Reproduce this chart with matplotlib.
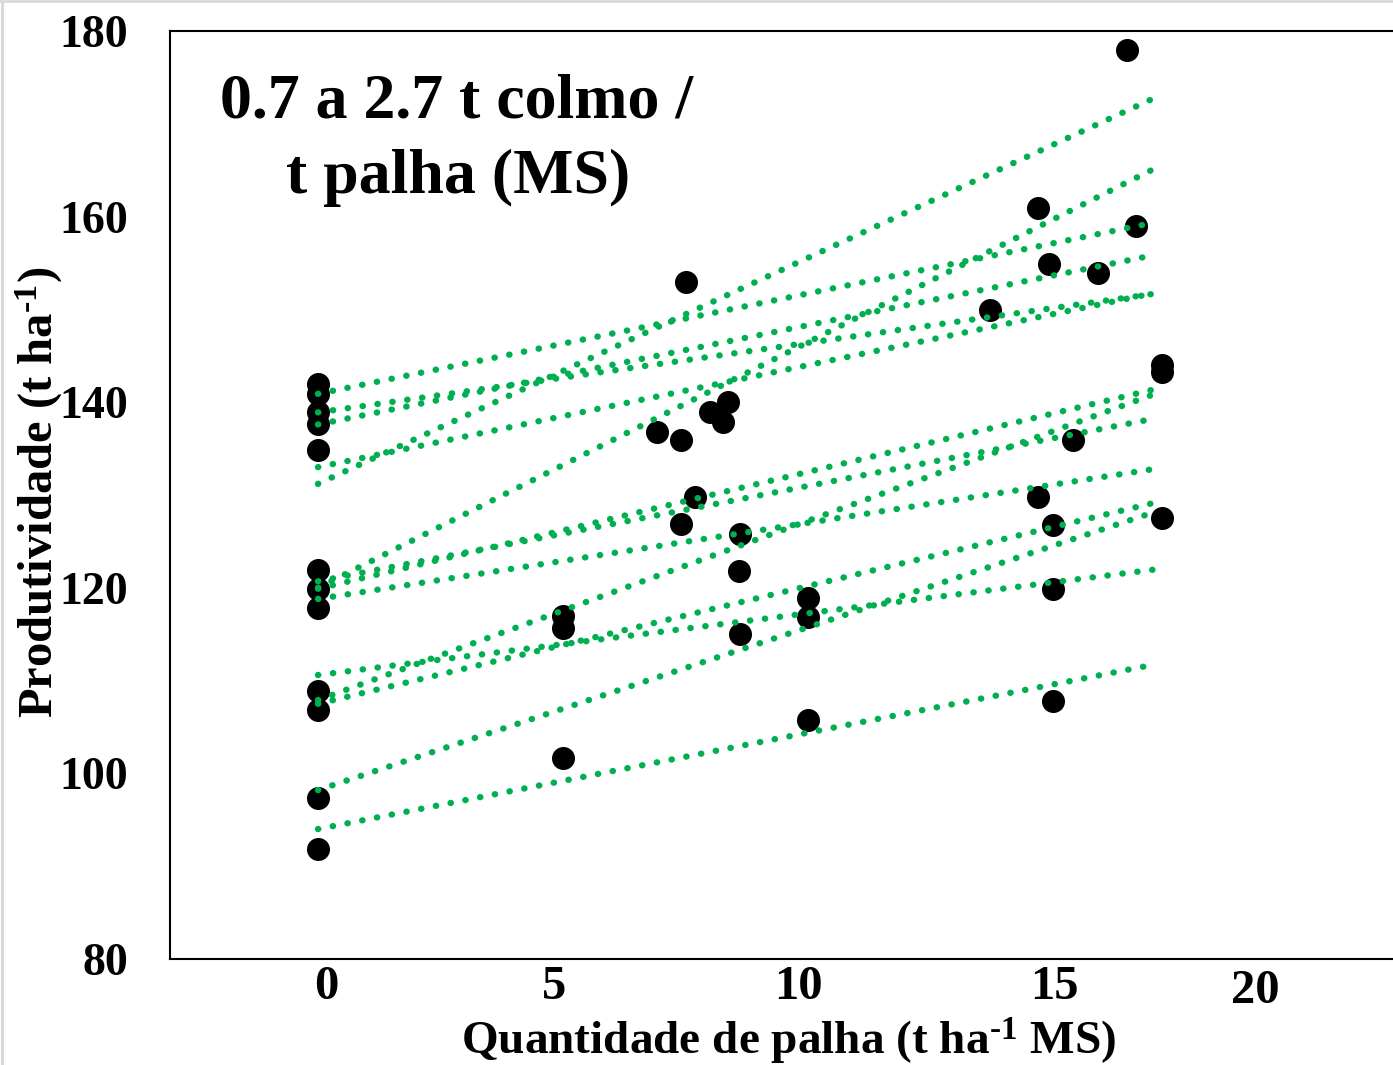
import matplotlib
matplotlib.use('Agg')
import matplotlib.pyplot as plt
from matplotlib.lines import Line2D
import matplotlib.transforms as mtransforms

plt.rcParams['font.family'] = ['Liberation Serif', 'DejaVu Serif']
plt.rcParams['font.weight'] = 'bold'
plt.rcParams['mathtext.fontset'] = 'custom'
plt.rcParams['mathtext.rm'] = 'Liberation Serif:bold'
plt.rcParams['mathtext.bf'] = 'Liberation Serif:bold'
plt.rcParams['mathtext.it'] = 'Liberation Serif:bold:italic'

# ---------------- data ----------------
# observed yields (t ha-1) versus straw amount (t ha-1 MS)
x_obs = [0, 0, 0, 0, 0, 0, 0, 0, 0, 0, 0, 0,
         5, 5, 5,
         6.91, 7.41, 7.41, 7.51, 7.69,
         8.0, 8.27, 8.37,
         8.61, 8.6, 8.61,
         10, 10, 10,
         13.71, 14.7, 14.7, 14.92,
         15, 15, 15,
         15.41, 15.91, 16.51, 16.69,
         17.22, 17.22, 17.22]
y_obs = [142.0, 140.9, 138.9, 137.7, 134.9, 121.9, 119.9, 117.8, 108.9, 106.8, 97.4, 91.9,
         117.0, 115.7, 101.7,
         136.8, 135.9, 126.9, 152.9, 129.8,
         138.9, 137.9, 140.0,
         125.8, 121.8, 115.0,
         118.9, 116.8, 105.8,
         149.9, 160.9, 129.8, 154.9,
         126.8, 119.9, 107.8,
         135.9, 153.9, 178.0, 159.0,
         144.0, 143.3, 127.5]

# linear trend lines: value at x = 0, value at the end, x at the end
line_y0 = [131.2, 140.9, 138.9, 137.6, 133.0, 120.0, 119.9, 120.7, 118.8, 110.6, 107.9, 107.5, 98.2, 94.0]
line_y1 = [172.9, 159.2, 151.7, 155.7, 151.6, 165.3, 141.4, 138.1, 132.8, 122.0, 140.7, 129.2, 128.0, 111.6]
line_xend = [17.12, 16.92, 17.08, 16.92, 16.92, 17.12, 17.08, 16.94, 17.06, 17.12, 16.98, 17.1, 16.98, 16.94]

yticks = [80, 100, 120, 140, 160, 180]
xtick_labels = ['0', '5', '10', '15', '20']

# ---------------- layout ----------------
xtick_pos = [0.16, 4.82, 9.80, 15.02, 19.14]   # label positions as placed in the original

W, H = 1393, 1065
fig = plt.figure(figsize=(W / 100, H / 100), dpi=100)
ax = fig.add_axes([170 / W, 106 / H, 1223 / W, 928 / H])

ax.scatter(x_obs, y_obs, s=275, color='black', linewidths=0, zorder=2)

green = '#00B050'
for y0, y1, xe in zip(line_y0, line_y1, line_xend):
    ax.plot([0, xe], [y0, y1], color=green, lw=4.6,
            linestyle=(0, (0.05, 2.3)), dash_capstyle='round', zorder=3)

ax.set_xlim(-3.02, 21.94)
ax.set_ylim(80, 180)

ax.set_yticks(yticks)
ax.set_yticklabels([str(v) for v in yticks], fontsize=33, fontweight='bold')
ax.tick_params(axis='y', length=0, pad=30)

ax.set_xticks(xtick_pos)
ax.set_xticklabels(xtick_labels, fontsize=35, fontweight='bold')
ax.tick_params(axis='x', length=0, pad=4.5)
lab = ax.get_xticklabels()[-1]
lab.set_transform(lab.get_transform() + mtransforms.ScaledTranslation(0, -4 / 100, fig.dpi_scale_trans))

for s in ['left', 'bottom', 'top']:
    ax.spines[s].set_linewidth(1.5)
    ax.spines[s].set_color('black')
ax.spines['right'].set_visible(False)

ax.set_xlabel(r'Quantidade de palha (t ha$^{\text{-1}}$ MS)', fontsize=34, fontweight='bold')
ax.xaxis.set_label_coords(0.5057, -0.061)
ax.set_ylabel(r'Produtividade (t ha$^{\text{-1}}$)', fontsize=35, fontweight='bold')
ax.yaxis.set_label_coords(-0.0855, 0.503)

fig.text(457 / W, 1 - 117 / H, '0.7 a 2.7 t colmo /', ha='center', va='baseline',
         fontsize=46, fontweight='bold')
fig.text(458 / W, 1 - 193 / H, 't palha (MS)', ha='center', va='baseline',
         fontsize=46, fontweight='bold')

# light frame at the top and left edges of the picture
fig.add_artist(Line2D([0, 1], [1 - 1.2 / H, 1 - 1.2 / H], transform=fig.transFigure, color='#d9d9d9', lw=2))
fig.add_artist(Line2D([1.5 / W, 1.5 / W], [0, 1], transform=fig.transFigure, color='#d9d9d9', lw=2.2))

fig.savefig('out.png', dpi=100)
